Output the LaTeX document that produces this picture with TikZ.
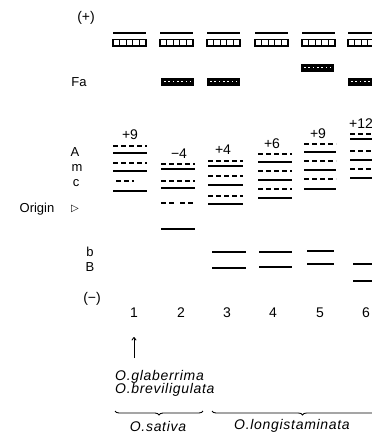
\documentclass[tikz,border=0pt]{standalone}
\usepackage{fontspec}
\setmainfont{Liberation Sans}
\newfontfamily\symfont{DejaVu Sans}
\usetikzlibrary{decorations.pathreplacing,arrows.meta}

\tikzset{
  lbl/.style={font=\fontsize{13}{15}\selectfont, inner sep=0pt},
  num/.style={font=\fontsize{14}{16}\selectfont, inner sep=0pt},
  spc/.style={font=\fontsize{14}{16}\selectfont\itshape\addfontfeatures{LetterSpace=5}, inner sep=0pt, anchor=west},
  solidband/.style={line width=2.3pt},
  dashband/.style={line width=1.4pt, dash pattern=on 5pt off 3pt},
  thinband/.style={line width=1.2pt},
  topline/.style={line width=1.1pt},
  ladder/.style={line width=1.3pt},
  fabox/.style={fill=black},
  brc/.style={decorate, decoration={brace, mirror, amplitude=4pt}, line width=0.9pt},
}

\begin{document}
\begin{tikzpicture}[x=1pt, y=-1pt]
\useasboundingbox (0,0) rectangle (372,434);
\clip (0,0) rectangle (372,434);

% polarity and row labels
\node[num] (plus)   at (86,18)  {(+)};
\node[lbl] (fa)     at (79,82)  {Fa};
\node[lbl] (rowA)   at (75,152) {A};
\node[lbl] (rowm)   at (77,168) {m};
\node[lbl] (rowc)   at (76,183) {c};
\node[lbl] (origin) at (37,209) {Origin};
\node[lbl] (orimk)  at (75,209) {\symfont\fontsize{10}{10}\selectfont ▷};
\node[lbl] (rowb)   at (90,252) {b};
\node[lbl] (rowB)   at (90,267) {B};
\node[num] (minus)  at (92,299) {(−)};

% top bands: thin line and segmented ladder for every lane
\foreach \l in {113,160,207,255,302,348} {
  \draw[topline] (\l,33) -- (\l+33,33);
  \draw[ladder] (\l,39.5) rectangle (\l+33,46);
  \foreach \k in {1,...,4}
    \draw[line width=1pt] (\l+\k*6.6,39.5) -- (\l+\k*6.6,46);
}

% Fa bands (dark, speckled)
\foreach \l/\t in {161/78, 207/78, 301/64, 348/78} {
  \fill[fabox] (\l,\t) rectangle (\l+33,\t+7.5);
  \foreach \k in {0,...,6}
    \fill[white] (\l+3+\k*4.3,\t+2.5) rectangle +(1.6,1.8);
}

% net charge of each lane
\node[num] (q1) at (130,135) {+9};
\node[num] (q2) at (179,154) {−4};
\node[num] (q3) at (223,150) {+4};
\node[num] (q4) at (272,144) {+6};
\node[num] (q5) at (318,134) {+9};
\node[num, anchor=west] (q6) at (349,124) {+12};

% lane 1
\foreach \y in {146,163} \draw[dashband] (113,\y) -- (147,\y);
\draw[dashband] (116,181) -- (134,181);
\foreach \y in {153,171,191} \draw[solidband] (113,\y) -- (147,\y);

% lane 2
\foreach \y in {164,181} \draw[dashband] (161,\y) -- (195,\y);
\draw[dashband] (161,203) -- (174,203);
\draw[dashband] (180,203) -- (195,203);
\foreach \y in {169,188,229} \draw[solidband] (161,\y) -- (195,\y);

% lane 3
\foreach \y in {161,176,196} \draw[dashband] (208,\y) -- (243,\y);
\foreach \y in {166,185,204} \draw[solidband] (208,\y) -- (243,\y);
\foreach \y in {252,268} \draw[thinband] (212,\y) -- (246,\y);

% lane 4
\foreach \y in {154,171,189} \draw[dashband] (258,\y) -- (292,\y);
\foreach \y in {162,180,198} \draw[solidband] (258,\y) -- (292,\y);
\foreach \y in {252,267} \draw[thinband] (259,\y) -- (292,\y);

% lane 5
\foreach \y in {144,161,179} \draw[dashband] (304,\y) -- (336,\y);
\foreach \y in {152,170,189} \draw[solidband] (304,\y) -- (336,\y);
\foreach \y in {251,264} \draw[thinband] (307,\y) -- (334,\y);

% lane 6
\foreach \y in {134,151,169} \draw[dashband] (350,\y) -- (384,\y);
\foreach \y in {139,160,178} \draw[solidband] (350,\y) -- (384,\y);
\foreach \y in {264,281} \draw[thinband] (353,\y) -- (386,\y);

% lane numbers
\node[num] (n1) at (134,313) {1};
\node[num] (n2) at (181,313) {2};
\node[num] (n3) at (227,313) {3};
\node[num] (n4) at (273,313) {4};
\node[num] (n5) at (320,313) {5};
\node[num] (n6) at (366,313) {6};

% species of lane 1
\node[spc] (glab) at (115,377) {O.glaberrima};
\node[spc] (brev) at (115,390) {O.breviligulata};
\coordinate (arrfoot) at (134,358);
\coordinate (arrhead) at (134,337);
\draw[line width=0.9pt, -{To[length=3.5pt,width=5pt]}] (arrfoot) -- (arrhead);

% species groups
\coordinate (sL) at (115,411);
\coordinate (sR) at (203,411);
\coordinate (lL) at (212,411);
\coordinate (lR) at (393,411);
\draw[brc] (sL) -- (sR);
\draw[brc] (lL) -- (lR);
\node[spc, anchor=center] (sat) at (158,426) {O.sativa};
\node[spc, anchor=center] (lon) at (292,426) {O.longistaminata};
\end{tikzpicture}
\end{document}
